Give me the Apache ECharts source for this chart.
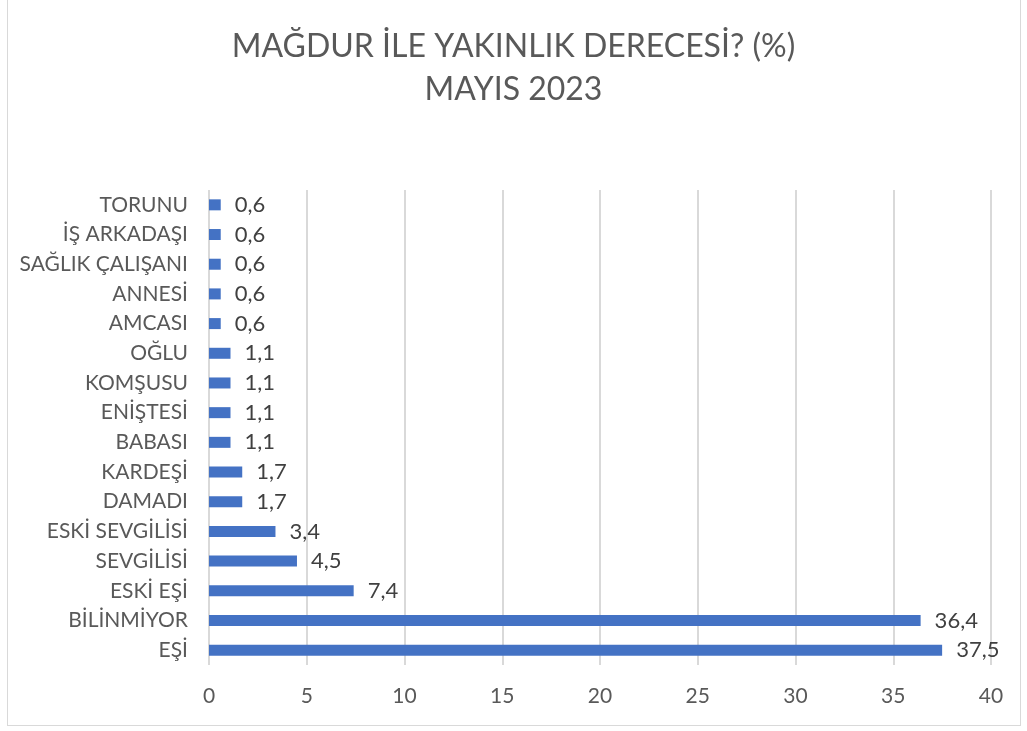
<!DOCTYPE html>
<html lang="tr">
<head>
    <meta charset="UTF-8">
    <title>Mağdur ile yakınlık derecesi</title>
    <style>
        * { margin: 0; }
        body { background: #fff; }
        #frame {
            position: absolute;
            left: 7px;
            top: -2px;
            width: 1012px;
            height: 726px;
            border: 1px solid #d9d9d9;
        }
        #main {
            position: absolute;
            left: 0;
            top: 0;
            width: 1027px;
            height: 731px;
        }
    </style>
    <script src="https://cdn.jsdelivr.net/npm/echarts@6/dist/echarts.min.js"></script>
</head>
<body>
<div id="frame"></div>
<div id="main"></div>
<script>
    var categories = ['EŞİ', 'BİLİNMİYOR', 'ESKİ EŞİ', 'SEVGİLİSİ', 'ESKİ SEVGİLİSİ', 'DAMADI', 'KARDEŞİ',
        'BABASI', 'ENİŞTESİ', 'KOMŞUSU', 'OĞLU', 'AMCASI', 'ANNESİ', 'SAĞLIK ÇALIŞANI', 'İŞ ARKADAŞI', 'TORUNU'];
    var values = [37.5, 36.4, 7.4, 4.5, 3.4, 1.7, 1.7, 1.1, 1.1, 1.1, 1.1, 0.6, 0.6, 0.6, 0.6, 0.6];
    var titleLines = ['MAĞDUR İLE YAKINLIK DERECESİ? (%)', 'MAYIS 2023'];

    var myChart = echarts.init(document.getElementById('main'));

    var option = {
        animation: false,
        textStyle: { fontFamily: 'Lato' },
        title: {
            text: titleLines.join('\n'),
            left: 'center',
            top: 20,
            textStyle: {
                fontFamily: 'Lato',
                fontWeight: 'normal',
                fontSize: 32,
                lineHeight: 43,
                color: '#595959'
            }
        },
        grid: {
            left: 209,
            right: 36,
            top: 190,
            bottom: 66
        },
        xAxis: {
            type: 'value',
            min: 0,
            max: 40,
            interval: 5,
            axisLine: { show: false },
            axisTick: { show: false },
            splitLine: { lineStyle: { color: '#d9d9d9', width: 2 } },
            axisLabel: { color: '#595959', fontSize: 21, margin: 21 }
        },
        yAxis: {
            type: 'category',
            data: categories,
            axisLine: { show: false },
            axisTick: { show: false },
            axisLabel: { color: '#595959', fontSize: 21, margin: 21 }
        },
        series: [{
            type: 'bar',
            data: values,
            barWidth: 11,
            itemStyle: { color: '#4472C4' },
            label: {
                show: true,
                position: 'right',
                distance: 14,
                color: '#404040',
                fontSize: 22,
                formatter: function (p) {
                    return String(p.value).replace('.', ',');
                }
            }
        }]
    };
    myChart.setOption(option);
</script>
</body>
</html>
